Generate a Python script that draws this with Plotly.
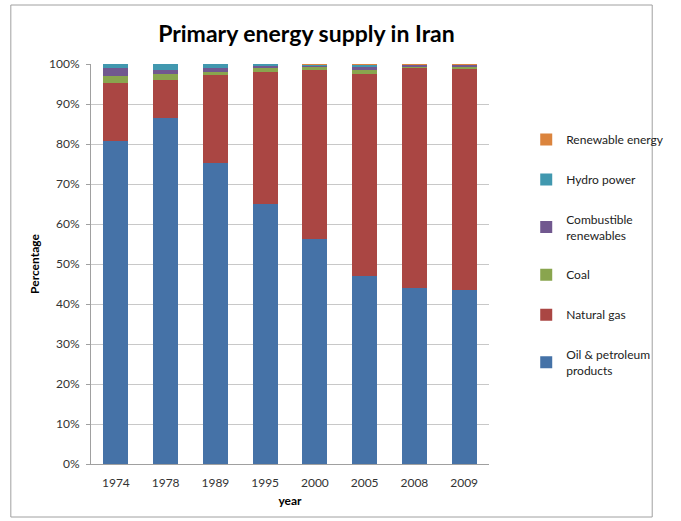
import plotly.graph_objects as go

years = ["1974", "1978", "1989", "1995", "2000", "2005", "2008", "2009"]
oil = [80.75, 86.5, 75.25, 65.0, 56.2, 47.1, 44.0, 43.6]
gas = [14.5, 9.6, 22.0, 33.1, 42.4, 50.5, 55.1, 55.3]
coal = [1.85, 1.3, 0.85, 0.8, 0.8, 0.8, 0.35, 0.35]
combustible = [2.0, 1.2, 0.8, 0.5, 0.3, 0.85, 0.3, 0.5]
hydro = [0.9, 1.4, 1.1, 0.6, 0.25, 0.7, 0.2, 0.2]
renewable = [0.0, 0.0, 0.0, 0.0, 0.05, 0.05, 0.05, 0.05]

series = [
    ("Oil & petroleum<br>products", oil, "#4572A7"),
    ("Natural gas", gas, "#AA4643"),
    ("Coal", coal, "#89A54E"),
    ("Combustible<br>renewables", combustible, "#71588F"),
    ("Hydro power", hydro, "#4198AF"),
    ("Renewable energy", renewable, "#DB843D"),
]

FONT = "Lato, Calibri, sans-serif"
L, R, T, B = 91, 173, 64, 57
PW, PH = 681 - L - R, 521 - T - B

fig = go.Figure()
n = len(series)
for i, (name, vals, col) in enumerate(series):
    fig.add_trace(go.Bar(
        x=years, y=vals, name=name, legendgroup="g%d" % i,
        legendrank=n - i,
        marker=dict(color=col, line=dict(width=0)),
    ))

fig.update_layout(
    width=681, height=521,
    barmode="stack", bargap=0.5,
    paper_bgcolor="white", plot_bgcolor="white",
    margin=dict(l=L, r=R, t=T, b=B),
    font=dict(family=FONT, size=12, color="#404040"),
    title=dict(text="<b>Primary energy supply in Iran</b>", x=0.45, xanchor="center",
               y=0.935, yanchor="middle",
               font=dict(family=FONT, size=23, color="black")),
    showlegend=True,
    legend=dict(x=(547 - L) / PW, xanchor="left", y=(464 - 125) / PH, yanchor="top",
                traceorder="grouped", tracegroupgap=21,
                font=dict(family=FONT, size=12, color="#222222"),
                itemwidth=30, bgcolor="rgba(0,0,0,0)"),
    xaxis=dict(title=dict(text="<b>year</b>", font=dict(size=12, color="black"), standoff=7),
               showline=True, linecolor="#a0a0a0", linewidth=1, automargin=False,
               tickfont=dict(size=12, color="#333333"), ticks="", ticklabelstandoff=8),
    yaxis=dict(title=dict(text="<b>Percentage</b>", font=dict(size=12, color="black"), standoff=6),
               range=[0, 100], dtick=10, ticksuffix="%", automargin=False,
               showgrid=True, gridcolor="#c8c8c8", gridwidth=1,
               showline=True, linecolor="#a0a0a0", linewidth=1,
               ticks="outside", ticklen=4, tickcolor="#a0a0a0", ticklabelstandoff=4,
               tickfont=dict(size=12, color="#333333"), zeroline=False),
    shapes=[dict(type="rect", xref="paper", yref="paper",
                 x0=(7 - L) / PW, x1=(679 - L) / PW, y0=-(517 - 464) / PH, y1=(464 - 5) / PH,
                 line=dict(color="#a0a0a0", width=1), fillcolor="rgba(0,0,0,0)",
                 layer="below")],
)

fig.write_html("out.html")
